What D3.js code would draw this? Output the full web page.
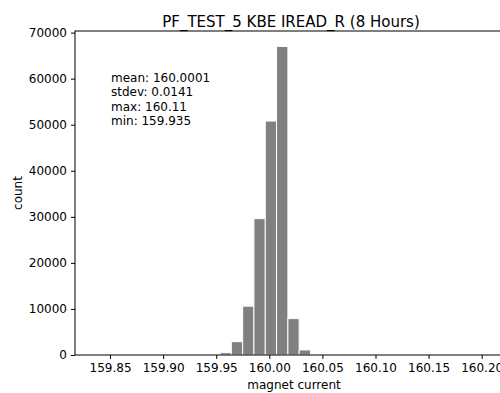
<!DOCTYPE html>
<html><head><meta charset="utf-8">
<script src="https://cdn.jsdelivr.net/npm/d3@7"></script>
<style>body{margin:0;background:#fff}svg{display:block}text{font-family:"DejaVu Sans",sans-serif;fill:#000}</style>
</head><body><svg id="c" width="500" height="393"></svg>
<script>
const binEdges = [159.9536, 159.9642, 159.9749, 159.9855, 159.9962, 160.0068, 160.0175, 160.0281, 160.0388, 160.0494];
const counts = [500, 2900, 10600, 29600, 50800, 67000, 7900, 1100, 150];
const xTicks = [159.85, 159.90, 159.95, 160.00, 160.05, 160.10, 160.15, 160.20];
const yTicks = [0, 10000, 20000, 30000, 40000, 50000, 60000, 70000];
const statsLines = ["mean: 160.0001", "stdev: 0.0141", "max: 160.11", "min: 159.935"];
const title = "PF_TEST_5 KBE IREAD_R (8 Hours)";

const svg = d3.select("#c");
const L = 75, R = 513, T = 31, B = 355;
const x = d3.scaleLinear().domain([159.817, 160.2295]).range([L, R]);
const y = d3.scaleLinear().domain([0, 70350]).range([B, T]);

const bins = counts.map((c, i) => ({x0: binEdges[i], x1: binEdges[i+1], c}));
svg.append("g").selectAll("rect").data(bins).join("rect")
  .attr("x", d => x(d.x0)).attr("width", d => x(d.x1) - x(d.x0))
  .attr("y", d => y(d.c)).attr("height", d => B - y(d.c))
  .attr("fill", "#808080").attr("stroke", "#fff").attr("stroke-width", 1);

const fmtX = d3.format(".2f");
const xa = svg.append("g").attr("transform", `translate(0,${B})`)
  .call(d3.axisBottom(x).tickValues(xTicks).tickFormat(fmtX).tickSize(4).tickPadding(4).tickSizeOuter(0));
const ya = svg.append("g").attr("transform", `translate(${L},0)`)
  .call(d3.axisLeft(y).tickValues(yTicks).tickFormat(d3.format("d")).tickSize(4).tickPadding(4).tickSizeOuter(0));
[xa, ya].forEach(a => {
  a.selectAll("text").attr("font-size", 12).attr("font-family", "DejaVu Sans").attr("fill", "#000");
  a.selectAll("line").attr("stroke", "#000").attr("stroke-width", 1);
  a.select(".domain").remove();
});
// spines
svg.append("rect").attr("x", L).attr("y", T).attr("width", R - L).attr("height", B - T)
  .attr("fill", "none").attr("stroke", "#000").attr("stroke-width", 1);

svg.append("text").attr("x", 291).attr("y", 27).attr("text-anchor", "middle")
  .attr("font-size", 15).text(title);
svg.append("text").attr("x", (L + R) / 2).attr("y", 389).attr("text-anchor", "middle")
  .attr("font-size", 12).text("magnet current");
svg.append("text").attr("transform", `translate(22,${(T + B) / 2}) rotate(-90)`).attr("text-anchor", "middle")
  .attr("font-size", 12).text("count");

const st = svg.append("text").attr("font-size", 12);
statsLines.forEach((s, i) => st.append("tspan").attr("x", 111).attr("y", 81.5 + i * 14.5).text(s));
</script></body></html>
